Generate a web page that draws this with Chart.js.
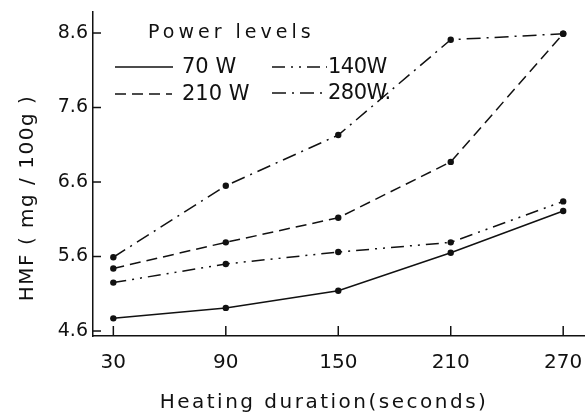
<!DOCTYPE html>
<html>
<head>
<meta charset="utf-8">
<script src="https://cdn.jsdelivr.net/npm/chart.js@4/dist/chart.umd.min.js"></script>
<style>
  html, body { margin: 0; padding: 0; background: #ffffff; }
  #wrap { width: 588px; height: 414px; }
</style>
</head>
<body>
<div id="wrap"><canvas id="c" width="588" height="414"></canvas></div>
<script>
// ---- data ----
const durations = [30, 90, 150, 210, 270];          // heating duration (s)
const xTicks = [30, 90, 150, 210, 270];
const yTicks = [4.6, 5.6, 6.6, 7.6, 8.6];
const seriesNames = ["70 W", "140W", "210 W", "280W."];
const hmf70  = [4.77, 4.91, 5.14, 5.65, 6.21];
const hmf140 = [5.25, 5.50, 5.66, 5.79, 6.34];
const hmf210 = [5.44, 5.79, 6.12, 6.87, 8.59];
const hmf280 = [5.59, 6.55, 7.23, 8.51, 8.59];

const INK = '#111111';
const FONT = "'DejaVu Sans', 'Liberation Sans', sans-serif";
const dashes = {
  "70 W": [],
  "140W": [13, 6, 2, 6, 2, 6],
  "210 W": [11, 6],
  "280W.": [14, 6, 2, 6]
};

function mk(label, vals) {
  return {
    label: label,
    data: durations.map((d, i) => ({ x: d, y: vals[i] })),
    borderColor: INK,
    backgroundColor: INK,
    borderWidth: 1.5,
    borderDash: dashes[label],
    pointRadius: 3.2,
    pointBackgroundColor: INK,
    pointBorderWidth: 0,
    tension: 0,
    fill: false
  };
}

const decorPlugin = {
  id: 'decor',
  afterDraw(chart) {
    const ctx = chart.ctx;
    const xs = chart.scales.x, ys = chart.scales.y;
    const area = chart.chartArea;
    ctx.save();
    ctx.strokeStyle = INK;
    ctx.fillStyle = INK;
    ctx.lineWidth = 1.5;
    ctx.setLineDash([]);
    // inward tick marks
    xTicks.forEach(v => {
      const px = xs.getPixelForValue(v);
      ctx.beginPath();
      ctx.moveTo(px, area.bottom);
      ctx.lineTo(px, area.bottom - 10);
      ctx.stroke();
    });
    yTicks.forEach(v => {
      const py = ys.getPixelForValue(v);
      ctx.beginPath();
      ctx.moveTo(area.left, py);
      ctx.lineTo(area.left + 8, py);
      ctx.stroke();
    });

    // axis titles
    ctx.textAlign = 'center';
    ctx.textBaseline = 'alphabetic';
    ctx.font = '20px ' + FONT;
    ctx.letterSpacing = '2.5px';
    ctx.fillText('Heating duration(seconds)', 324, 408);

    ctx.save();
    ctx.translate(33, 198);
    ctx.rotate(-Math.PI / 2);
    ctx.letterSpacing = '1.5px';
    ctx.fillText('HMF ( mg / 100g )', 0, 0);
    ctx.restore();

    // legend
    ctx.textAlign = 'left';
    ctx.font = '19px ' + FONT;
    ctx.letterSpacing = '4px';
    ctx.fillText('Power levels', 148, 38);

    const items = [
      { name: seriesNames[0], x1: 115, x2: 173, y: 67, tx: 182 },
      { name: seriesNames[2], x1: 115, x2: 172, y: 94, tx: 182 },
      { name: seriesNames[1], x1: 272, x2: 327, y: 67, tx: 328 },
      { name: seriesNames[3], x1: 272, x2: 327, y: 93, tx: 328 }
    ];
    ctx.textBaseline = 'middle';
    items.forEach(it => {
      ctx.setLineDash(dashes[it.name]);
      ctx.beginPath();
      ctx.moveTo(it.x1, it.y);
      ctx.lineTo(it.x2, it.y);
      ctx.stroke();
      ctx.setLineDash([]);
      ctx.font = '21px ' + FONT;
      ctx.letterSpacing = it.tx > 300 ? '-0.5px' : '0px';
      ctx.fillText(it.name, it.tx, it.y + 1);
    });
    ctx.restore();
  }
};

new Chart(document.getElementById('c'), {
  type: 'line',
  data: {
    datasets: [
      mk(seriesNames[0], hmf70),
      mk(seriesNames[1], hmf140),
      mk(seriesNames[2], hmf210),
      mk(seriesNames[3], hmf280)
    ]
  },
  options: {
    responsive: false,
    animation: false,
    devicePixelRatio: 1,
    layout: { padding: { top: 12, right: 0, bottom: 0, left: 0 } },
    plugins: { legend: { display: false }, tooltip: { enabled: false }, title: { display: false } },
    scales: {
      x: {
        type: 'linear',
        min: 19.15,
        max: 281.1,
        afterBuildTicks: s => { s.ticks = xTicks.map(v => ({ value: v })); },
        afterFit: s => { s.height = 78; s.paddingLeft = 0; s.paddingRight = 0; },
        grid: { display: false, drawTicks: false },
        border: { display: true, color: INK, width: 1.5 },
        ticks: {
          color: INK,
          padding: 15,
          autoSkip: false,
          maxRotation: 0,
          font: { family: FONT, size: 20 },
          callback: v => String(v)
        }
      },
      y: {
        type: 'linear',
        min: 4.533,
        max: 8.882,
        afterBuildTicks: s => { s.ticks = yTicks.map(v => ({ value: v })); },
        afterFit: s => { s.width = 93; s.paddingTop = 0; s.paddingBottom = 0; },
        grid: { display: false, drawTicks: false },
        border: { display: true, color: INK, width: 1.5 },
        ticks: {
          color: INK,
          padding: 5,
          autoSkip: false,
          font: { family: FONT, size: 19 },
          callback: v => Number(v).toFixed(1)
        }
      }
    }
  },
  plugins: [decorPlugin]
});
</script>
</body>
</html>
